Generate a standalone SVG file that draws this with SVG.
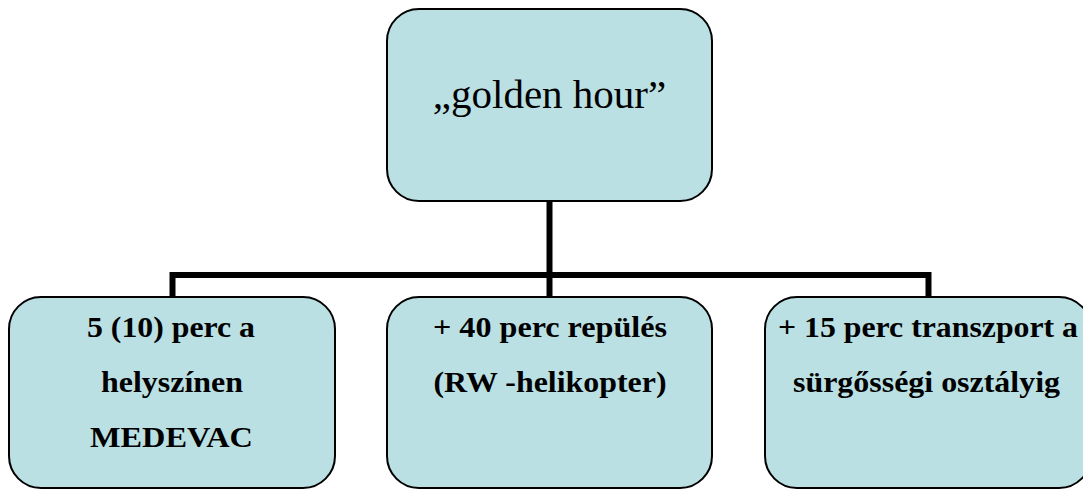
<svg xmlns="http://www.w3.org/2000/svg" width="1083" height="490" viewBox="0 0 1083 490">
  <style>
    .box { fill: #BAE0E3; stroke: #000; stroke-width: 2; }
    .title { font-size: 41px; fill: #000; text-anchor: middle; }
    .label { font-size: 30px; font-weight: bold; fill: #000; text-anchor: middle; }
    .conn { fill: none; stroke: #000; stroke-width: 6; stroke-linejoin: miter; }
  </style>
  <rect width="1083" height="490" fill="#fff"/>

  <!-- connectors -->
  <g id="connectors">
    <path class="conn" d="M549.5 201 V275"/>
    <path class="conn" d="M172.5 297 V275 H928.5 V297"/>
    <path class="conn" d="M549.5 275 V297"/>
  </g>

  <g font-family="Liberation Serif, DejaVu Serif, serif">
    <!-- root -->
    <g id="node-golden-hour">
      <rect class="box" x="387" y="9" width="325" height="192" rx="32" ry="32"/>
      <text class="title" x="549.5" y="108">„golden hour”</text>
    </g>

    <!-- children: each label line gets an explicit length -->
    <g id="node-medevac">
      <rect class="box" x="9" y="297" width="326" height="191" rx="32" ry="32"/>
      <text class="label" x="171" y="337" textLength="168" lengthAdjust="spacingAndGlyphs">5 (10) perc a</text>
      <text class="label" x="172" y="392" textLength="142" lengthAdjust="spacingAndGlyphs">helyszínen</text>
      <text class="label" x="171.5" y="447" textLength="163" lengthAdjust="spacingAndGlyphs">MEDEVAC</text>
    </g>

    <g id="node-flight">
      <rect class="box" x="387" y="297" width="325" height="191" rx="32" ry="32"/>
      <text class="label" x="550" y="337" textLength="234" lengthAdjust="spacingAndGlyphs">+ 40 perc repülés</text>
      <text class="label" x="550" y="392" textLength="233" lengthAdjust="spacingAndGlyphs">(RW -helikopter)</text>
    </g>

    <g id="node-transport">
      <rect class="box" x="765" y="297" width="326" height="191" rx="32" ry="32"/>
      <text class="label" x="928" y="337" textLength="300" lengthAdjust="spacingAndGlyphs">+ 15 perc transzport a</text>
      <text class="label" x="926.5" y="392" textLength="267" lengthAdjust="spacingAndGlyphs">sürgősségi osztályig</text>
    </g>
  </g>
</svg>
